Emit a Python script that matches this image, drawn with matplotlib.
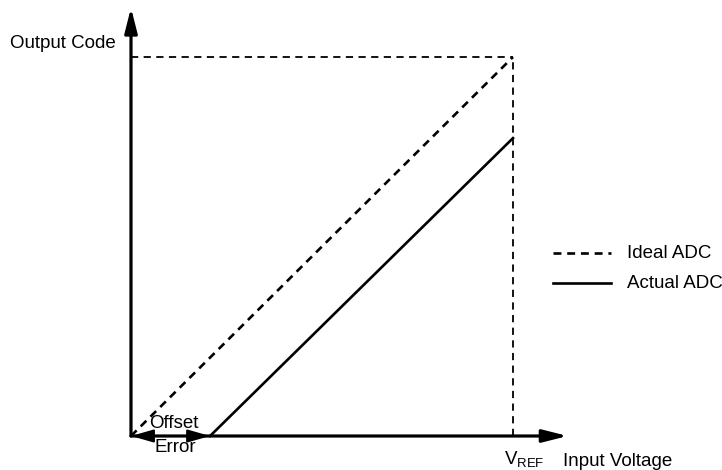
import matplotlib
matplotlib.use("Agg")
import matplotlib.pyplot as plt

plt.rcParams['font.family'] = ['Liberation Sans', 'DejaVu Sans']
plt.rcParams['mathtext.fontset'] = 'custom'
plt.rcParams['mathtext.rm'] = 'Liberation Sans'
plt.rcParams['mathtext.it'] = 'Liberation Sans'

# input voltage normalised to VREF, output code normalised to full scale
vref = 1.0
full_code = 1.0
offset = 0.207          # offset error, fraction of VREF
actual_top = 0.786      # actual ADC code at VREF

ideal_x = [0.0, vref]
ideal_y = [0.0, full_code]
actual_x = [offset, vref]
actual_y = [0.0, actual_top]

fig = plt.figure(figsize=(7.22, 4.70), dpi=100)
ax = fig.add_axes([131 / 722, 34 / 470, 382 / 722, 379 / 470])
ax.set_xlim(0, 1)
ax.set_ylim(0, 1)
ax.axis('off')

k = 'black'
lw = 1.9

# full scale guides
ax.plot([0, vref], [full_code, full_code], color=k, lw=1.3, ls=(0, (4, 3)), clip_on=False)
ax.plot([vref, vref], [0, full_code], color=k, lw=1.3, ls=(0, (4, 3)), clip_on=False)

# transfer curves
ax.plot(ideal_x, ideal_y, color=k, lw=lw, ls=(0, (3, 2.2)), clip_on=False)
ax.plot(actual_x, actual_y, color=k, lw=lw, clip_on=False)

# axes with arrows
ax.annotate('', xy=(0, 1.13), xytext=(0, 0), annotation_clip=False,
            arrowprops=dict(arrowstyle='-|>,head_width=0.38,head_length=1.5',
                            color=k, lw=2.3, shrinkA=0, shrinkB=0))
ax.annotate('', xy=(1.143, 0), xytext=(0, 0), annotation_clip=False,
            arrowprops=dict(arrowstyle='-|>,head_width=0.38,head_length=1.5',
                            color=k, lw=2.3, shrinkA=0, shrinkB=0))

# offset error arrow
ax.annotate('', xy=(0, 0), xytext=(offset, 0), annotation_clip=False,
            arrowprops=dict(arrowstyle='<|-|>,head_width=0.4,head_length=1.4',
                            color=k, lw=1.4, shrinkA=0, shrinkB=0))

fs = 13.5
fig.text(10 / 722, 1 - 44 / 470, 'Output Code', fontsize=fs, va='center', ha='left')
fig.text(563 / 722, 1 - 461 / 470, 'Input Voltage', fontsize=fs, va='center', ha='left')
fig.text(504 / 722, 1 - 459 / 470, r'V$_{\mathrm{REF}}$', fontsize=fs, va='center', ha='left')
fig.text(149 / 722, 1 - 424 / 470, 'Offset', fontsize=fs, va='center', ha='left')
fig.text(154 / 722, 1 - 447 / 470, 'Error', fontsize=fs, va='center', ha='left')

# legend drawn by hand in figure coords
fig.add_artist(plt.Line2D([553 / 722, 611 / 722], [1 - 253 / 470] * 2, color=k, lw=lw,
                          ls=(0, (3, 2.2))))
fig.add_artist(plt.Line2D([553 / 722, 611 / 722], [1 - 283 / 470] * 2, color=k, lw=lw))
fig.text(627 / 722, 1 - 253 / 470, 'Ideal ADC', fontsize=fs, va='center', ha='left')
fig.text(627 / 722, 1 - 283 / 470, 'Actual ADC', fontsize=fs, va='center', ha='left')

fig.savefig('out.png', dpi=100)
